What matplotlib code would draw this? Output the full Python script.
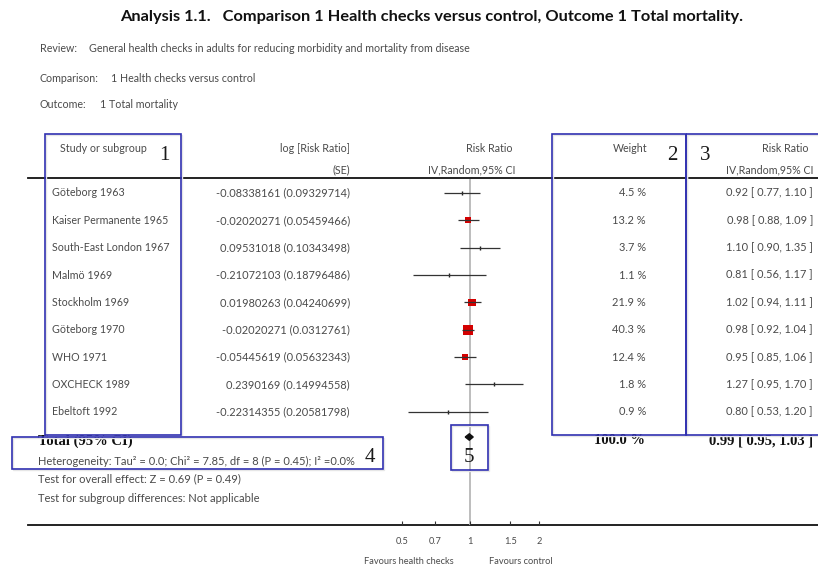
import numpy as np
import matplotlib
matplotlib.use("Agg")
import matplotlib.pyplot as plt
from matplotlib.patches import Rectangle, Polygon

# ---- data -------------------------------------------------------------
studies = ["Göteborg 1963", "Kaiser Permanente 1965", "South-East London 1967",
           "Malmö 1969", "Stockholm 1969", "Göteborg 1970", "WHO 1971",
           "OXCHECK 1989", "Ebeltoft 1992"]
log_rr = ["-0.08338161", "-0.02020271", "0.09531018", "-0.21072103",
          "0.01980263", "-0.02020271", "-0.05445619", "0.2390169", "-0.22314355"]
se = ["0.09329714", "0.05459466", "0.10343498", "0.18796486", "0.04240699",
      "0.0312761", "0.05632343", "0.14994558", "0.20581798"]
weights = [4.5, 13.2, 3.7, 1.1, 21.9, 40.3, 12.4, 1.8, 0.9]
rr = [0.92, 0.98, 1.10, 0.81, 1.02, 0.98, 0.95, 1.27, 0.80]
rr_lo = [0.77, 0.88, 0.90, 0.56, 0.94, 0.92, 0.85, 0.95, 0.53]
rr_hi = [1.10, 1.09, 1.35, 1.17, 1.11, 1.04, 1.06, 1.70, 1.20]
total_weight = 100.0
total_rr, total_lo, total_hi = 0.99, 0.95, 1.03
tick_values = [0.5, 0.7, 1, 1.5, 2]
tick_labels = ["0.5", "0.7", "1", "1.5", "2"]

# ---- styling ----------------------------------------------------------
SANS = ["Lato", "DejaVu Sans"]
SERIF = ["Liberation Serif", "DejaVu Serif"]
GREY = "#4a4a4a"
BLUE = "#3030b0"
FS = 7.7
FS_NUM = 7.9

W, H = 818, 568
fig = plt.figure(figsize=(W / 100, H / 100), dpi=100)
ax = fig.add_axes([0, 0, 1, 1])
ax.set_xlim(0, W)
ax.set_ylim(H, 0)
ax.axis("off")

# forest panel: log-scale axis sharing the vertical pixel layout
x_null, px_per_ln = 470.3, 98.8
fx0, fx1 = 395, 545
fax = fig.add_axes([fx0 / W, 0, (fx1 - fx0) / W, 1])
fax.set_xscale("log")
fax.set_xlim(np.exp((fx0 - x_null) / px_per_ln), np.exp((fx1 - x_null) / px_per_ln))
fax.set_ylim(H, 0)
fax.axis("off")
fax.patch.set_alpha(0)

# ---- title block ------------------------------------------------------
ax.text(432, 17, "Analysis 1.1.   Comparison 1 Health checks versus control, Outcome 1 Total mortality.",
        family=SANS, fontsize=11.8, fontweight="bold", ha="center", va="center", color="#111111")
ax.text(40, 49, "Review:", family=SANS, fontsize=FS, color=GREY, va="center")
ax.text(89, 49, "General health checks in adults for reducing morbidity and mortality from disease",
        family=SANS, fontsize=FS, color=GREY, va="center")
ax.text(40, 78, "Comparison:", family=SANS, fontsize=FS, color=GREY, va="center")
ax.text(111, 78, "1 Health checks versus control", family=SANS, fontsize=FS, color=GREY, va="center")
ax.text(40, 105, "Outcome:", family=SANS, fontsize=FS, color=GREY, va="center")
ax.text(100, 105, "1 Total mortality", family=SANS, fontsize=FS, color=GREY, va="center")

# ---- column headers ---------------------------------------------------
hy1, hy2 = 149, 170
ax.text(60, hy1, "Study or subgroup", family=SANS, fontsize=FS, color=GREY, va="center")
ax.text(350, hy1, "log [Risk Ratio]", family=SANS, fontsize=FS, color=GREY, va="center", ha="right")
ax.text(350, hy2, "(SE)", family=SANS, fontsize=FS, color=GREY, va="center", ha="right")
ax.text(513, hy1, "Risk Ratio", family=SANS, fontsize=FS, color=GREY, va="center", ha="right")
ax.text(515, hy2, "IV,Random,95% CI", family=SANS, fontsize=FS, color=GREY, va="center", ha="right")
ax.text(647, hy1, "Weight", family=SANS, fontsize=FS, color=GREY, va="center", ha="right")
ax.text(809, hy1, "Risk Ratio", family=SANS, fontsize=FS, color=GREY, va="center", ha="right")
ax.text(813, hy2, "IV,Random,95% CI", family=SANS, fontsize=FS, color=GREY, va="center", ha="right")
ax.plot([28, W], [178, 178], color="#111111", lw=1.3)

# ---- study rows -------------------------------------------------------
row_y = 193 + 27.35 * np.arange(len(studies))
for i, y in enumerate(row_y):
    ax.text(52, y, studies[i], family=SANS, fontsize=FS, color=GREY, va="center")
    ax.text(350, y, f"{log_rr[i]} ({se[i]})", family=SANS, fontsize=FS_NUM, color=GREY,
            va="center", ha="right")
    ax.text(646, y, f"{weights[i]:.1f} %", family=SANS, fontsize=FS_NUM, color=GREY,
            va="center", ha="right")
    ax.text(813, y, f"{rr[i]:.2f} [ {rr_lo[i]:.2f}, {rr_hi[i]:.2f} ]", family=SANS,
            fontsize=FS_NUM, color=GREY, va="center", ha="right")

# reference line at no effect
fax.vlines(1, 179, 525, color="#b8b8b8", lw=1.3, zorder=1)

# squares sized by weight, confidence intervals on top
sizes = [1.35 * w for w in weights]
big = [w >= 5 for w in weights]
fax.scatter([r for r, b in zip(rr, big) if b], [y for y, b in zip(row_y, big) if b],
            s=[s for s, b in zip(sizes, big) if b], marker="s", color="#d40000",
            linewidths=0, zorder=3)
fax.scatter([r for r, b in zip(rr, big) if not b], [y for y, b in zip(row_y, big) if not b],
            s=6, marker="|", color="#222222", linewidths=1.0, zorder=4)
fax.hlines(row_y, rr_lo, rr_hi, color="#333333", lw=0.9, zorder=4)

# ---- total row --------------------------------------------------------
ty = 441
TFS = 10.5
ax.text(38, ty, "Total (95% CI)", family=SERIF, fontsize=TFS, fontweight="bold",
        color="#111111", va="center")
ax.text(645, ty, f"{total_weight:.1f} %", family=SERIF, fontsize=TFS, fontweight="bold",
        color="#111111", va="center", ha="right")
ax.text(813, ty, f"{total_rr:.2f} [ {total_lo:.2f}, {total_hi:.2f} ]", family=SERIF,
        fontsize=TFS, fontweight="bold", color="#111111", va="center", ha="right")
dia_y, dy = 437, 3.2
fax.add_patch(Polygon([[total_lo, dia_y], [total_rr, dia_y - dy], [total_hi, dia_y],
                       [total_rr, dia_y + dy]], closed=True, color="#111111", zorder=5))

ax.text(38, 461, "Heterogeneity: Tau² = 0.0; Chi² = 7.85, df = 8 (P = 0.45); I² =0.0%",
        family=SANS, fontsize=8.0, color=GREY, va="center")
ax.text(38, 479, "Test for overall effect: Z = 0.69 (P = 0.49)", family=SANS,
        fontsize=8.0, color=GREY, va="center")
ax.text(38, 498, "Test for subgroup differences: Not applicable", family=SANS,
        fontsize=8.0, color=GREY, va="center")

# ---- bottom axis ------------------------------------------------------
ax.plot([28, W], [525, 525], color="#111111", lw=1.3)
fax.vlines(tick_values, 521, 525, color="#333333", lw=0.8)
for v, lab in zip(tick_values, tick_labels):
    fax.text(v, 541, lab, family=SANS, fontsize=6.7, color=GREY, ha="center", va="center")
ax.text(409, 561, "Favours health checks", family=SANS, fontsize=6.7, color=GREY,
        ha="center", va="center")
ax.text(521, 561, "Favours control", family=SANS, fontsize=6.7, color=GREY,
        ha="center", va="center")

# ---- numbered call-out boxes -----------------------------------------
def callout(target, x0, y0, x1, y1):
    target.add_patch(Rectangle((x0 + 1, y0 + 1), x1 - x0, y1 - y0, fill=False,
                               edgecolor="#e6e6e6", lw=1.0, zorder=6,
                               transform=ax.transData))
    target.add_patch(Rectangle((x0, y0), x1 - x0, y1 - y0, fill=False,
                               edgecolor=BLUE, lw=1.2, zorder=7,
                               transform=ax.transData))

callout(ax, 44.5, 133.5, 180.5, 435)
callout(ax, 551.5, 133.5, 686, 434.5)
callout(ax, 686, 133.5, 830, 434.5)
callout(ax, 12, 437, 383, 469)
callout(fax, 451, 424.5, 487.5, 470)
num_style = dict(family=SERIF, fontsize=15, color="#1a1a1a", ha="center", va="center")
ax.text(164, 155, "1", **num_style)
ax.text(672, 155, "2", **num_style)
ax.text(705, 155, "3", **num_style)
ax.text(370, 457, "4", **num_style)
fax.text(469, 457, "5", transform=ax.transData, zorder=8, **num_style)

fig.savefig("out.png", dpi=100)
